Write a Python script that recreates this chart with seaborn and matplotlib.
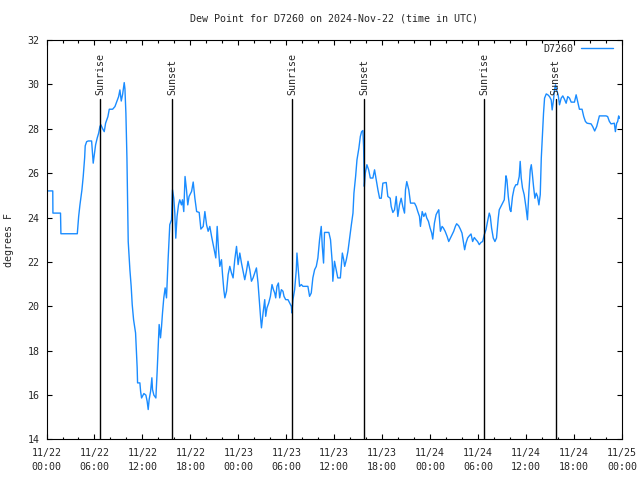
import pandas as pd
import matplotlib.pyplot as plt
import matplotlib.dates as mdates
import matplotlib.transforms as mtransforms
import seaborn as sns

# Dew point readings for station D7260
start = pd.Timestamp("2024-11-22 00:00")

# hours after 11/22 00:00 UTC
hours = [
    0.10, 0.78, 0.80, 1.75, 1.80, 3.85, 4.02, 4.18, 4.43, 4.59, 4.77, 4.84, 5.02, 5.22,
    5.64, 5.84, 5.97, 6.14, 6.34, 6.52, 6.68, 6.80, 7.02, 7.22, 7.39, 7.68, 7.85, 8.27,
    8.56, 8.77, 9.02, 9.18, 9.35, 9.52, 9.72, 9.81, 9.93, 10.06, 10.22, 10.43, 10.59, 10.72,
    10.89, 11.14, 11.22, 11.34, 11.39, 11.68, 11.77, 11.89, 12.18, 12.43, 12.59, 12.72, 12.84, 13.02,
    13.18, 13.26, 13.43, 13.68, 13.84, 13.96, 14.09, 14.26, 14.39, 14.51, 14.67, 14.84, 15.01, 15.21,
    15.42, 15.64, 15.76, 15.92, 16.05, 16.17, 16.33, 16.51, 16.67, 16.88, 17.01, 17.17, 17.33, 17.51,
    17.67, 17.83,
    17.94, 18.15, 18.35, 18.56, 18.78, 19.10, 19.31, 19.60, 19.81, 20.02, 20.22, 20.43, 20.65, 20.85,
    21.06, 21.18, 21.35, 21.52, 21.68, 21.89, 22.02, 22.18, 22.31, 22.52, 22.72, 22.93, 23.14, 23.34,
    23.55, 23.77, 23.97, 24.18, 24.39, 24.59, 24.80, 25.01, 25.21, 25.43, 25.64, 25.84, 26.05, 26.26,
    26.46, 26.67, 26.80, 26.89, 27.09, 27.30, 27.42, 27.58, 27.80, 28.01, 28.21, 28.39, 28.55, 28.67,
    28.83, 29.01, 29.17, 29.38, 29.58, 29.71, 29.92, 30.21, 30.42, 30.63, 30.70, 30.83, 31.04, 31.25,
    31.33, 31.50, 31.66, 31.88, 32.08, 32.70, 32.91, 33.12, 33.32, 33.54, 33.75, 33.95, 34.16, 34.37,
    34.50, 34.66, 34.78, 35.32, 35.53, 35.75, 35.82, 36.03, 36.24, 36.44, 36.76, 37.01, 37.18, 37.30,
    37.51, 37.71, 37.92, 38.14, 38.34, 38.46, 38.67, 38.84, 39.08, 39.26, 39.42, 39.58, 39.67, 39.76,
    39.88, 40.08, 40.30, 40.51, 40.83, 41.04, 41.25, 41.46, 41.67, 41.88, 42.08, 42.50, 42.70, 43.00,
    43.12, 43.33, 43.54, 43.75, 43.95, 44.16, 44.37, 44.57, 44.79, 44.91, 45.07, 45.32, 45.54, 46.04,
    46.25, 46.45, 46.66, 46.78, 47.00, 47.20, 47.41, 47.57, 47.78, 47.99, 48.19, 48.32, 48.53, 48.74,
    48.94, 49.07, 49.28, 49.49, 49.65, 49.87, 50.12, 50.32, 50.53, 50.74, 50.94, 51.15, 51.31, 51.56,
    51.77, 51.98, 52.15, 52.31, 52.48, 52.69, 52.90, 53.11, 53.31, 53.52, 53.73, 53.93, 54.14, 54.36,
    54.56, 54.77, 54.98, 55.18, 55.39, 55.52, 55.68, 55.89, 56.10, 56.30, 56.52, 56.64, 56.85, 57.05,
    57.27, 57.48, 57.60, 57.77, 57.98, 58.10, 58.30, 58.51, 58.72, 58.92, 59.14, 59.26, 59.39, 59.55,
    59.76, 59.97, 60.17, 60.35, 60.52, 60.65, 60.77, 60.93, 61.10, 61.27, 61.43, 61.60, 61.77, 61.90,
    62.02, 62.18, 62.31, 62.52, 62.72, 62.93, 63.14, 63.26, 63.43, 63.55, 63.68, 63.84, 64.01, 64.18,
    64.39, 64.59, 64.80, 65.01, 65.21, 65.43, 65.64, 66.05, 66.26, 66.46, 66.67, 67.00, 67.21, 67.42,
    67.63, 68.13, 68.33, 68.58, 68.83, 69.17, 70.00, 70.20, 70.42, 70.63, 71.04, 71.17, 71.33, 71.46,
    71.58, 71.67,
]

# dew point, degrees F
dewpoint = [
    25.2, 25.2, 24.2, 24.2, 23.27, 23.27, 24.05, 24.57, 25.25, 25.85, 26.7, 27.23, 27.42, 27.45,
    27.45, 26.45, 26.8, 27.28, 27.58, 27.8, 28.1, 28.18, 28.0, 27.87, 28.25, 28.55, 28.88, 28.88,
    29.0, 29.2, 29.45, 29.75, 29.25, 29.55, 30.08, 29.8, 28.7, 26.68, 22.92, 21.65, 20.9, 20.08,
    19.4, 18.8, 18.2, 17.23, 16.55, 16.55, 16.17, 15.87, 16.07, 16.0, 15.72, 15.35, 15.8, 16.17,
    16.78, 16.25, 16.0, 15.87, 17.07, 18.13, 19.18, 18.58, 19.1, 19.7, 20.38, 20.83, 20.38, 22.1,
    23.68, 23.9, 25.25, 24.87, 24.2, 23.07, 24.05, 24.57, 24.8, 24.57, 24.8, 24.27, 25.85, 25.25,
    24.57, 24.95,
    25.03, 25.18, 25.6, 24.87, 24.27, 24.23, 23.48, 23.6, 24.27, 23.68, 23.38, 23.6, 23.15, 22.78,
    22.4, 22.18, 23.6, 22.55, 21.8, 22.1, 21.43, 20.75, 20.38, 20.68, 21.43, 21.8, 21.5, 21.28,
    22.1, 22.7, 21.88, 22.4, 21.95, 21.58, 21.2, 21.58, 22.03, 21.65, 21.13, 21.28, 21.5, 21.73,
    21.05, 20.0, 19.4, 19.03, 19.7, 20.3, 19.55, 19.93, 20.15, 20.45, 20.98, 20.75, 20.6, 20.38,
    20.9, 21.05, 20.38, 20.75, 20.68, 20.45, 20.3, 20.3, 20.15, 20.0, 19.7, 20.3, 20.75, 21.65,
    22.4, 21.65, 20.9, 20.98, 20.9, 20.9, 20.45, 20.6, 21.28, 21.65, 21.8, 22.18, 23.0, 23.6,
    22.7, 21.95, 23.33, 23.33, 23.0, 21.95, 21.13, 22.03, 21.65, 21.28, 21.28, 22.4, 22.1, 21.8,
    22.1, 22.48, 23.08, 23.68, 24.2, 25.1, 25.85, 26.6, 27.13, 27.65, 27.87, 27.92, 27.2, 25.4,
    26.0, 26.38, 26.15, 25.78, 25.78, 26.15, 25.7, 25.25, 24.87, 24.87, 25.55, 25.58, 24.95, 24.87,
    24.5, 24.23, 24.35, 24.95, 24.05, 24.57, 24.87, 24.5, 24.2, 25.25, 25.62, 25.25, 24.65, 24.65,
    24.5, 24.27, 24.05, 23.6, 24.27, 24.05, 24.2, 23.98, 23.83, 23.53, 23.3, 23.03, 23.75, 24.13,
    24.27, 24.35, 23.38, 23.6, 23.53, 23.38, 23.15, 22.92, 23.08, 23.23, 23.38, 23.6, 23.72, 23.63,
    23.48, 23.3, 22.92, 22.55, 22.85, 23.08, 23.18, 23.26, 22.92, 23.1, 23.0, 22.92, 22.78, 22.88,
    22.92, 23.23, 23.45, 23.83, 24.2, 24.05, 23.53, 23.08, 22.92, 23.08, 23.98, 24.35, 24.5, 24.65,
    24.8, 25.88, 25.7, 24.95, 24.35, 24.27, 24.95, 25.33, 25.48, 25.48, 25.85, 26.53, 25.78, 25.33,
    25.03, 24.5, 23.9, 25.18, 26.15, 26.38, 26.0, 25.4, 24.87, 25.1, 24.95, 24.57, 25.03, 26.68,
    27.58, 28.7, 29.38, 29.57, 29.53, 29.45, 29.3, 28.85, 29.3, 29.75, 29.98, 29.72, 29.53, 29.08,
    29.38, 29.48, 29.33, 29.15, 29.45, 29.38, 29.2, 29.2, 29.53, 29.22, 28.88, 28.88, 28.55, 28.33,
    28.25, 28.22, 28.1, 27.9, 28.1, 28.58, 28.58, 28.55, 28.33, 28.22, 28.25, 27.87, 28.25, 28.33,
    28.58, 28.47,
]

# sunrise / sunset markers
sun_hours = [6.72, 15.72, 30.74, 39.72, 54.75, 63.71]
sun_labels = ["Sunrise", "Sunset", "Sunrise", "Sunset", "Sunrise", "Sunset"]

df = pd.DataFrame({
    "time": start + pd.to_timedelta(hours, unit="h"),
    "dewpoint": dewpoint,
})

sns.set_style("ticks")
plt.rcParams['font.family'] = ['DejaVu Sans Mono']
plt.rcParams['font.size'] = 7.2

fig, ax = plt.subplots(figsize=(6.4, 4.8), dpi=100)
fig.subplots_adjust(left=0.0727, right=0.9719, bottom=0.0844, top=0.9167)

sns.lineplot(data=df, x="time", y="dewpoint", color="#1a8cff", linewidth=1,
             label="D7260", ax=ax)

# sunrise / sunset lines with rotated labels
trans = mtransforms.blended_transform_factory(ax.transData, ax.transAxes)
for h, lab in zip(sun_hours, sun_labels):
    t = mdates.date2num(start + pd.Timedelta(hours=h))
    ax.axvline(t, ymax=0.852, color="black", linewidth=1)
    ax.text(t, 0.862, lab, rotation=90, ha="center", va="bottom",
            transform=trans, fontsize=7.2)

ax.set_xlim(start, start + pd.Timedelta(hours=72))
ax.set_ylim(14, 32)
ax.set_yticks(range(14, 33, 2))

ax.xaxis.set_major_locator(mdates.HourLocator(byhour=[0, 6, 12, 18]))
ax.xaxis.set_minor_locator(mdates.HourLocator(byhour=range(0, 24, 2)))
ax.xaxis.set_major_formatter(mdates.DateFormatter("%m/%d\n%H:%M"))
for lbl in ax.get_xticklabels():
    lbl.set_linespacing(1.5)

ax.tick_params(which="both", direction="in", top=True, right=True,
               width=0.8, color="black", labelsize=7.2)
ax.tick_params(which="major", length=3.6, pad=5)
ax.tick_params(which="minor", length=1.8)
ax.tick_params(axis="x", which="major", pad=6)

for s in ax.spines.values():
    s.set_linewidth(0.8)
    s.set_color("black")

ax.set_title("Dew Point for D7260 on 2024-Nov-22 (time in UTC)", fontsize=7.2, pad=13)
ax.set_xlabel("")
ax.set_ylabel("degrees F", fontsize=7.2, labelpad=10)

ax.legend(loc="upper right", bbox_to_anchor=(0.985, 0.99), frameon=False,
          markerfirst=False, handlelength=3.2, borderpad=0, borderaxespad=0,
          fontsize=7.2)

plt.savefig("out.png", dpi=100)
